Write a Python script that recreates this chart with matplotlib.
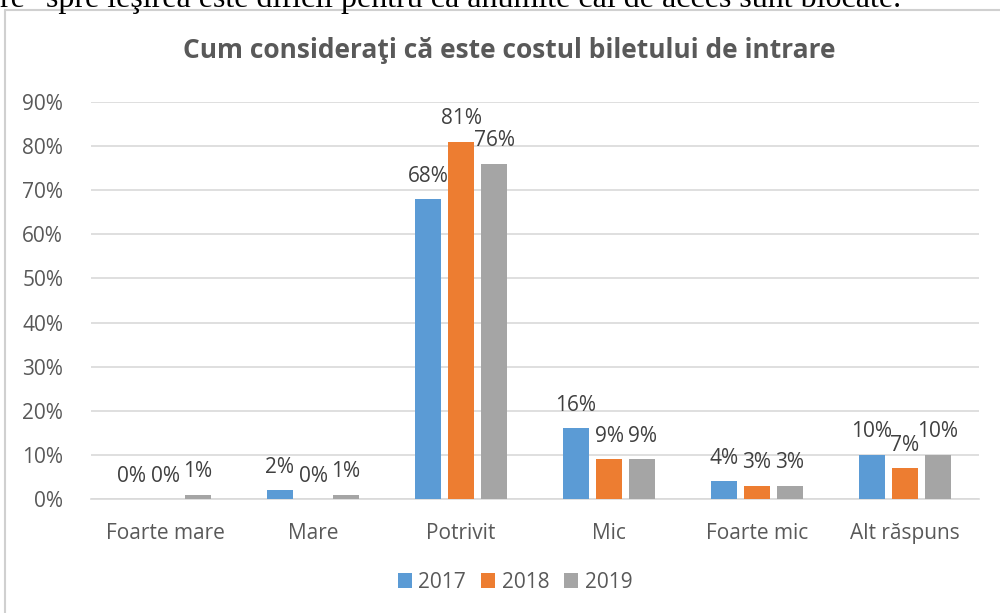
import matplotlib.pyplot as plt
from matplotlib.patches import Rectangle
import numpy as np

categories = ['Foarte mare', 'Mare', 'Potrivit', 'Mic', 'Foarte mic', 'Alt răspuns']
years = ['2017', '2018', '2019']
v2017 = [0, 2, 68, 16, 4, 10]
v2018 = [0, 0, 81, 9, 3, 7]
v2019 = [1, 1, 76, 9, 3, 10]
colors = ['#5B9BD5', '#ED7D31', '#A5A5A5']
title = 'Cum consideraţi că este costul biletului de intrare'
top_text = 're" spre ieşirea este dificil pentru că anumite căi de acces sunt blocate.'

text_color = '#595959'
plt.rcParams['font.family'] = ['Open Sans', 'DejaVu Sans']

fig = plt.figure(figsize=(10, 6.13), dpi=100)
W, H = 1000, 613

# chart frame and cut-off document line above it
fig.patches.append(Rectangle((5 / W, -0.1), 1.2, 1 + 0.1 - 10 / H, transform=fig.transFigure,
                             fill=False, edgecolor='#D0D0D0', linewidth=1.5))
fig.text(0.0, 1 - 7 / H, top_text, family='Liberation Serif', fontsize=23,
         va='baseline', ha='left', color='black')

ax = fig.add_axes([91 / W, 1 - 499 / H, (979 - 91) / W, (499 - 102) / H])
x = np.arange(len(categories))
step = 0.223
width = 0.176
for i, (vals, yr) in enumerate(zip([v2017, v2018, v2019], years)):
    pos = x + (i - 1) * step
    bars = ax.bar(pos, vals, width, color=colors[i], label=yr, zorder=3)
    for p, v in zip(pos, vals):
        ax.annotate(f'{v}%', (p, v), xytext=(0, 9), textcoords='offset points',
                    ha='center', va='bottom', fontsize=15, color='#404040')

ax.set_xlim(-0.5, len(categories) - 0.5)
ax.set_ylim(0, 90)
ax.set_yticks(range(0, 91, 10))
ax.set_yticklabels([f'{t}%' for t in range(0, 91, 10)])
ax.set_xticks(x)
ax.set_xticklabels(categories)
ax.grid(axis='y', color='#D9D9D9', linewidth=1.2, zorder=0)
for s in ['top', 'right', 'left']:
    ax.spines[s].set_visible(False)
ax.spines['bottom'].set_color('#D9D9D9')
ax.spines['bottom'].set_linewidth(1.2)
ax.tick_params(axis='both', length=0, labelsize=15, labelcolor=text_color)
ax.tick_params(axis='x', pad=17)
ax.tick_params(axis='y', pad=20)

fig.text(509 / W, 1 - 50 / H, title, ha='center', va='center', fontsize=19,
         fontweight='bold', color=text_color)

leg = fig.legend(loc='center', bbox_to_anchor=(515 / W, 1 - 582 / H), ncol=3, frameon=False,
                 fontsize=15, handlelength=0.7, handleheight=0.7, columnspacing=0.7,
                 handletextpad=0.3)
for t in leg.get_texts():
    t.set_color(text_color)

fig.savefig('out.png', dpi=100)
